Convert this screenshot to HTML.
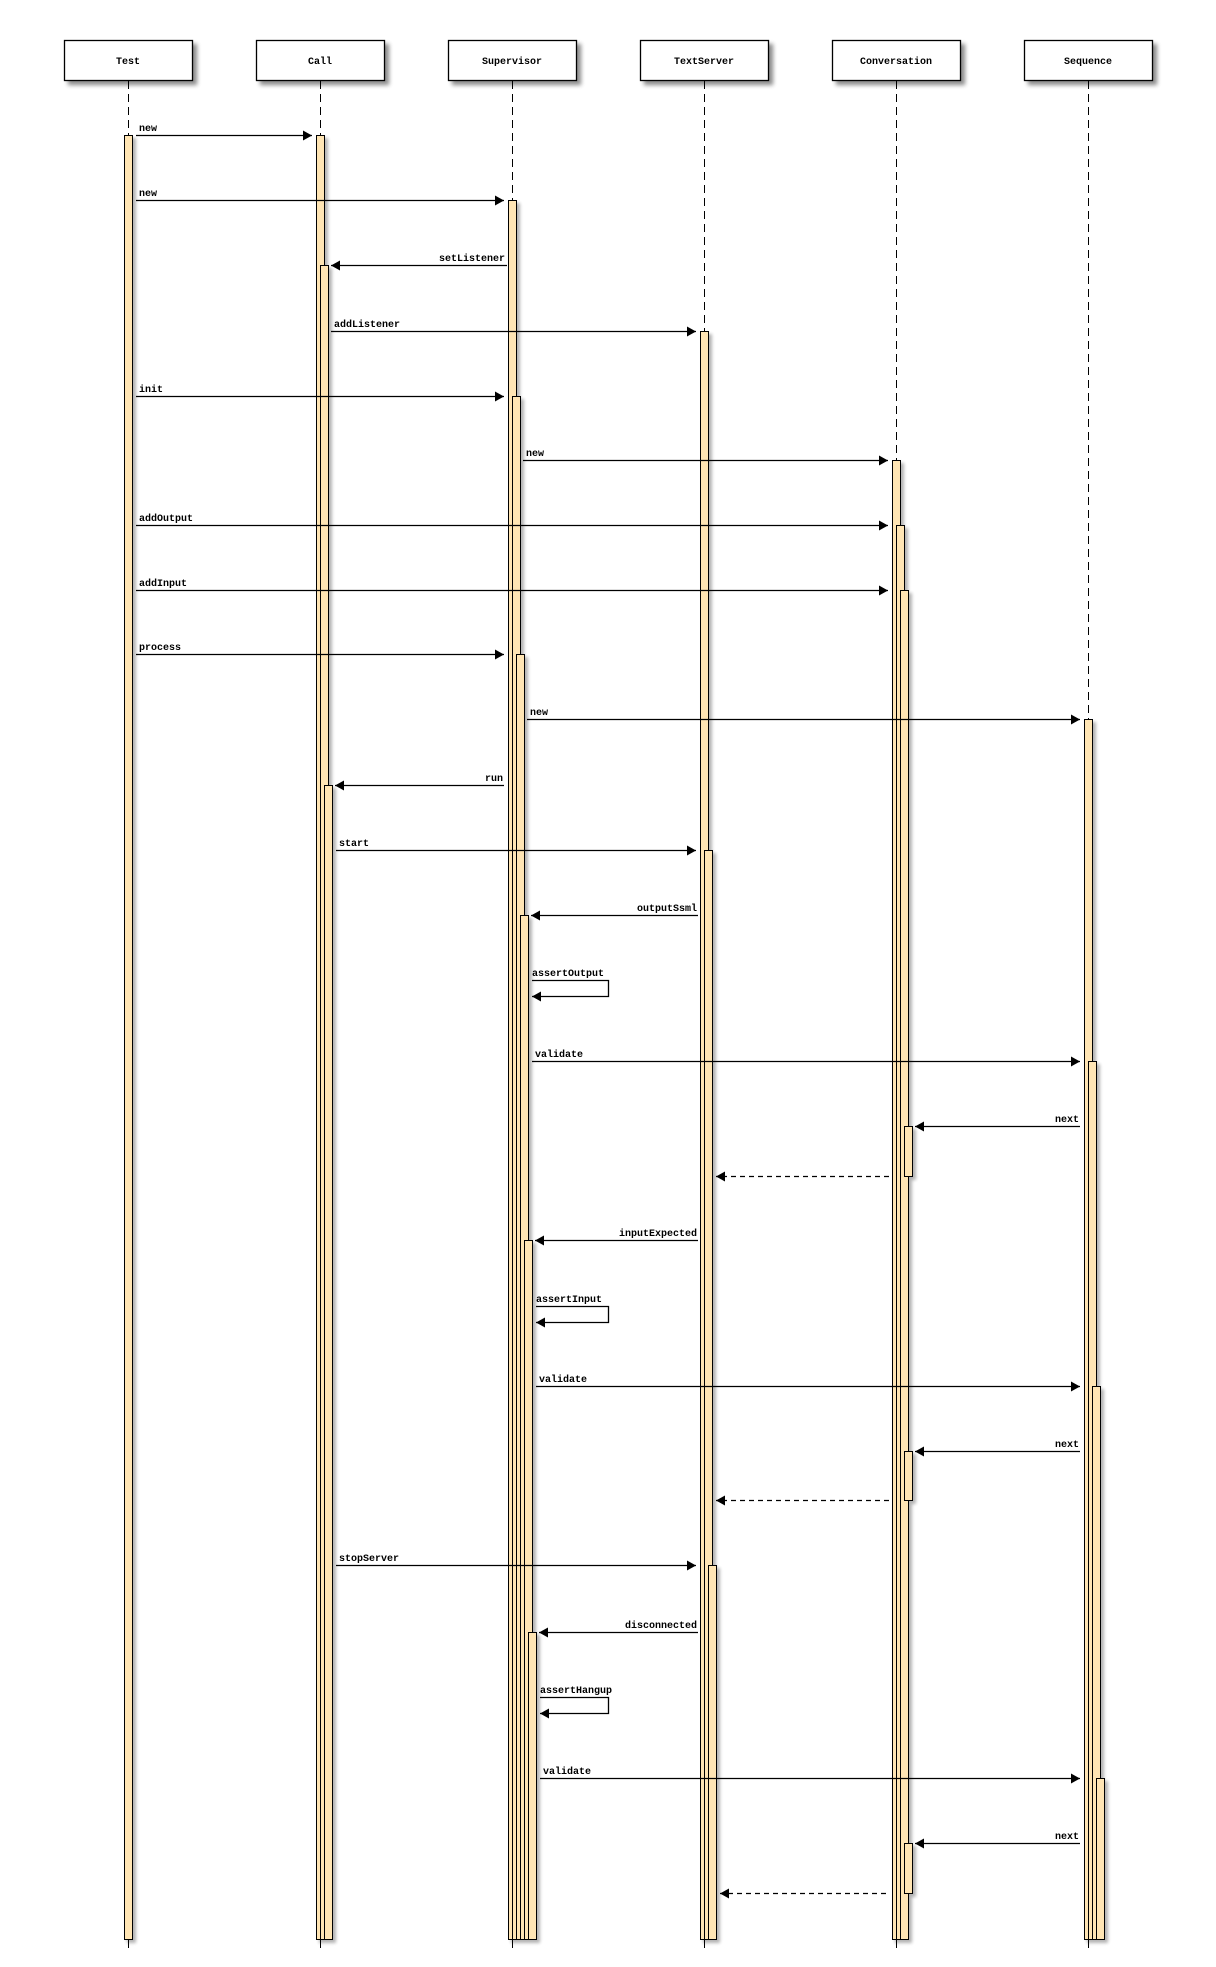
<!DOCTYPE html>
<html><head><meta charset="utf-8"><style>
html,body{margin:0;padding:0;background:#fff;}
svg{display:block;}
text{font-family:"Liberation Mono",monospace;font-weight:bold;font-size:10px;fill:#000;}
</style></head><body>
<svg width="1216" height="1967" viewBox="0 0 1216 1967" xmlns="http://www.w3.org/2000/svg">
<defs>
<filter id="sh" x="-20%" y="-20%" width="160%" height="160%"><feGaussianBlur in="SourceAlpha" stdDeviation="2"/><feOffset dx="4" dy="4"/><feComponentTransfer><feFuncA type="linear" slope="0.45"/></feComponentTransfer><feMerge><feMergeNode/><feMergeNode in="SourceGraphic"/></feMerge></filter>
<filter id="sa" x="-100%" y="-5%" width="300%" height="110%"><feGaussianBlur in="SourceAlpha" stdDeviation="1.5"/><feOffset dx="3" dy="3"/><feComponentTransfer><feFuncA type="linear" slope="0.3"/></feComponentTransfer><feMerge><feMergeNode/><feMergeNode in="SourceGraphic"/></feMerge></filter>
<marker id="ah" markerWidth="10" markerHeight="10" refX="9" refY="5" orient="auto" markerUnits="userSpaceOnUse"><path d="M0,0 L9,5 L0,10 Z" fill="#000"/></marker>
</defs>

<g filter="url(#sh)" fill="#fff" stroke="#000" stroke-width="1.3">
<rect x="64.5" y="40.5" width="128" height="40"/>
<rect x="256.5" y="40.5" width="128" height="40"/>
<rect x="448.5" y="40.5" width="128" height="40"/>
<rect x="640.5" y="40.5" width="128" height="40"/>
<rect x="832.5" y="40.5" width="128" height="40"/>
<rect x="1024.5" y="40.5" width="128" height="40"/>
</g>
<g text-anchor="middle">
<text x="128" y="64">Test</text>
<text x="320" y="64">Call</text>
<text x="512" y="64">Supervisor</text>
<text x="704" y="64">TextServer</text>
<text x="896" y="64">Conversation</text>
<text x="1088" y="64">Sequence</text>
</g>

<g stroke="#000" stroke-width="1" stroke-dasharray="8,5">
<line x1="128.5" y1="81" x2="128.5" y2="1948"/>
<line x1="320.5" y1="81" x2="320.5" y2="1948"/>
<line x1="512.5" y1="81" x2="512.5" y2="1948"/>
<line x1="704.5" y1="81" x2="704.5" y2="1948"/>
<line x1="896.5" y1="81" x2="896.5" y2="1948"/>
<line x1="1088.5" y1="81" x2="1088.5" y2="1948"/>
</g>

<g fill="#ffe5b4" stroke="#000" stroke-width="1" filter="url(#sa)">
<rect x="124.5" y="135.5" width="8" height="1804"/>
<rect x="316.5" y="135.5" width="8" height="1804"/>
<rect x="320.5" y="265.5" width="8" height="1674"/>
<rect x="324.5" y="785.5" width="8" height="1154"/>
<rect x="508.5" y="200.5" width="8" height="1739"/>
<rect x="512.5" y="396.5" width="8" height="1543"/>
<rect x="516.5" y="654.5" width="8" height="1285"/>
<rect x="520.5" y="915.5" width="8" height="1024"/>
<rect x="524.5" y="1240.5" width="8" height="699"/>
<rect x="528.5" y="1632.5" width="8" height="307"/>
<rect x="700.5" y="331.5" width="8" height="1608"/>
<rect x="704.5" y="850.5" width="8" height="1089"/>
<rect x="708.5" y="1565.5" width="8" height="374"/>
<rect x="892.5" y="460.5" width="8" height="1479"/>
<rect x="896.5" y="525.5" width="8" height="1414"/>
<rect x="900.5" y="590.5" width="8" height="1349"/>
<rect x="904.5" y="1126.5" width="8" height="50"/>
<rect x="904.5" y="1451.5" width="8" height="49"/>
<rect x="904.5" y="1843.5" width="8" height="50"/>
<rect x="1084.5" y="719.5" width="8" height="1220"/>
<rect x="1088.5" y="1061.5" width="8" height="878"/>
<rect x="1092.5" y="1386.5" width="8" height="553"/>
<rect x="1096.5" y="1778.5" width="8" height="161"/>
</g>

<g stroke="#000" stroke-width="1.3" fill="none" marker-end="url(#ah)">
<line x1="136" y1="135.5" x2="312" y2="135.5"/>
<line x1="136" y1="200.5" x2="504" y2="200.5"/>
<line x1="507" y1="265.5" x2="331" y2="265.5"/>
<line x1="331" y1="331.5" x2="696" y2="331.5"/>
<line x1="136" y1="396.5" x2="504" y2="396.5"/>
<line x1="523" y1="460.5" x2="888" y2="460.5"/>
<line x1="136" y1="525.5" x2="888" y2="525.5"/>
<line x1="136" y1="590.5" x2="888" y2="590.5"/>
<line x1="136" y1="654.5" x2="504" y2="654.5"/>
<line x1="527" y1="719.5" x2="1080" y2="719.5"/>
<line x1="504" y1="785.5" x2="335" y2="785.5"/>
<line x1="336" y1="850.5" x2="696" y2="850.5"/>
<line x1="698" y1="915.5" x2="531" y2="915.5"/>
<polyline points="532,980.5 608.5,980.5 608.5,996.5 532,996.5"/>
<line x1="532" y1="1061.5" x2="1080" y2="1061.5"/>
<line x1="1080" y1="1126.5" x2="915" y2="1126.5"/>
<line x1="698" y1="1240.5" x2="535" y2="1240.5"/>
<polyline points="536,1306.5 608.5,1306.5 608.5,1322.5 536,1322.5"/>
<line x1="536" y1="1386.5" x2="1080" y2="1386.5"/>
<line x1="1080" y1="1451.5" x2="915" y2="1451.5"/>
<line x1="336" y1="1565.5" x2="696" y2="1565.5"/>
<line x1="698" y1="1632.5" x2="539" y2="1632.5"/>
<polyline points="540,1697.5 608.5,1697.5 608.5,1713.5 540,1713.5"/>
<line x1="540" y1="1778.5" x2="1080" y2="1778.5"/>
<line x1="1080" y1="1843.5" x2="915" y2="1843.5"/>
<line x1="889" y1="1176.5" x2="716" y2="1176.5" stroke-dasharray="5,4"/>
<line x1="889" y1="1500.5" x2="716" y2="1500.5" stroke-dasharray="5,4"/>
<line x1="886" y1="1893.5" x2="720" y2="1893.5" stroke-dasharray="5,4"/>
</g>

<text x="139" y="131">new</text>
<text x="139" y="196">new</text>
<text x="505" y="261" text-anchor="end">setListener</text>
<text x="334" y="327">addListener</text>
<text x="139" y="392">init</text>
<text x="526" y="456">new</text>
<text x="139" y="521">addOutput</text>
<text x="139" y="586">addInput</text>
<text x="139" y="650">process</text>
<text x="530" y="715">new</text>
<text x="503" y="781" text-anchor="end">run</text>
<text x="339" y="846">start</text>
<text x="697" y="911" text-anchor="end">outputSsml</text>
<text x="532" y="976">assertOutput</text>
<text x="535" y="1057">validate</text>
<text x="1079" y="1122" text-anchor="end">next</text>
<text x="697" y="1236" text-anchor="end">inputExpected</text>
<text x="536" y="1302">assertInput</text>
<text x="539" y="1382">validate</text>
<text x="1079" y="1447" text-anchor="end">next</text>
<text x="339" y="1561">stopServer</text>
<text x="697" y="1628" text-anchor="end">disconnected</text>
<text x="540" y="1693">assertHangup</text>
<text x="543" y="1774">validate</text>
<text x="1079" y="1839" text-anchor="end">next</text>
</svg>
</body></html>
